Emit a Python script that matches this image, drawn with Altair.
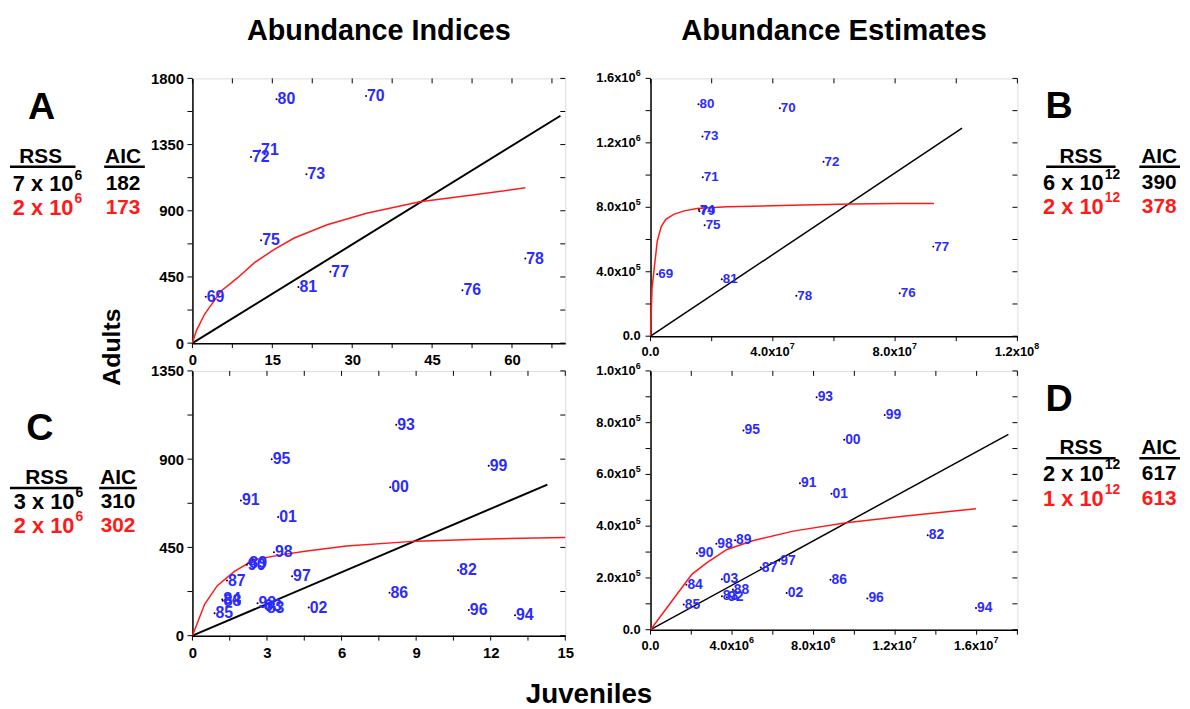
import altair as alt
import pandas as pd

FONT = "Liberation Sans"
BLUE = "#2b2bff"
RED = "#ff1a1a"

# ---------------- Panel A (Abundance indices, 1969-1981) ----------------
A_year = ["69", "70", "71", "72", "73", "75", "76", "77", "78", "80", "81"]
A_juv = [2.5, 32.6, 12.7, 11.0, 21.4, 12.9, 50.7, 25.9, 62.5, 15.8, 19.9]
A_adu = [315, 1681, 1310, 1265, 1148, 699, 360, 485, 575, 1658, 382]
A_black_x = [0, 69.1]
A_black_y = [0, 1546]
A_red_x = [0, 0.75, 2.3, 5.4, 8.5, 11.6, 15.3, 19.1, 25.3, 32.7, 42.7, 52.6, 62.5]
A_red_y = [0, 85, 198, 355, 445, 546, 636, 715, 805, 883, 962, 1007, 1056]
A_xmaj = [0, 15, 30, 45, 60]
A_xall = [0, 7.5, 15, 22.5, 30, 37.5, 45, 52.5, 60, 67.5]
A_ymaj = [0, 450, 900, 1350, 1800]
A_yall = [0, 225, 450, 675, 900, 1125, 1350, 1575, 1800]

# ---------------- Panel B (Abundance estimates, 1969-1981) ----------------
B_year = ["69", "70", "71", "72", "73", "74", "75", "76", "77", "78", "79", "80", "81"]
B_juv = [0.22e7, 4.23e7, 1.71e7, 5.66e7, 1.70e7, 1.58e7, 1.77e7, 8.15e7, 9.25e7, 4.77e7, 1.60e7, 1.57e7, 2.33e7]
B_adu = [0.385e6, 1.415e6, 0.986e6, 1.083e6, 1.24e6, 0.785e6, 0.688e6, 0.266e6, 0.556e6, 0.251e6, 0.775e6, 1.44e6, 0.354e6]
B_black_x = [0, 10.19e7]
B_black_y = [0, 1.291e6]
B_red_x = [0, 0.05e7, 0.22e7, 0.35e7, 0.5e7, 0.76e7, 1.1e7, 1.52e7, 2.5e7, 3.36e7, 5.0e7, 6.6e7, 8.0e7, 9.27e7]
B_red_y = [0, 0.30e6, 0.59e6, 0.68e6, 0.725e6, 0.756e6, 0.778e6, 0.793e6, 0.803e6, 0.807e6, 0.815e6, 0.820e6, 0.823e6, 0.824e6]
B_xmaj = [4e7, 8e7, 1.2e8]
B_xbase = ["4.0x10", "8.0x10", "1.2x10"]
B_xsup = ["7", "7", "8"]
B_xall = [0, 2e7, 4e7, 6e7, 8e7, 1e8, 1.2e8]
B_ymaj = [4e5, 8e5, 1.2e6, 1.6e6]
B_ybase = ["4.0x10", "8.0x10", "1.2x10", "1.6x10"]
B_ysup = ["5", "5", "6", "6"]
B_yall = [0, 2e5, 4e5, 6e5, 8e5, 1e6, 1.2e6, 1.4e6, 1.6e6]

# ---------------- Panel C (Abundance indices, 1982-2003) ----------------
C_year = ["82", "83", "84", "85", "86", "87", "88", "89", "90", "91", "92",
          "93", "94", "95", "96", "97", "98", "99", "00", "01", "02", "03"]
C_juv = [10.69, 2.95, 1.20, 0.89, 7.93, 1.39, 1.22, 2.25, 2.19, 1.95, 2.62,
         8.20, 12.98, 3.19, 11.12, 4.01, 3.28, 11.92, 7.96, 3.45, 4.68, 2.85]
C_adu = [333, 140, 185, 114, 219, 281, 178, 370, 362, 689, 165,
         1076, 104, 899, 131, 303, 425, 866, 757, 605, 143, 150]
C_black_x = [0, 14.28]
C_black_y = [0, 770]
C_red_x = [0, 0.49, 1.0, 1.69, 2.48, 3.55, 4.61, 6.2, 9.0, 11.9, 15.0]
C_red_y = [0, 160, 255, 328, 387, 412, 432, 457, 482, 493, 501]
C_xmaj = [0, 3, 6, 9, 12, 15]
C_xall = [0, 1.5, 3, 4.5, 6, 7.5, 9, 10.5, 12, 13.5, 15]
C_ymaj = [0, 450, 900, 1350]
C_yall = [0, 225, 450, 675, 900, 1125, 1350]

# ---------------- Panel D (Abundance estimates, 1982-2003) ----------------
D_year = C_year
D_juv = [13.6e6, 3.50e6, 1.76e6, 1.63e6, 8.83e6, 5.41e6, 4.04e6, 4.15e6, 2.28e6, 7.33e6, 3.75e6,
         8.15e6, 15.97e6, 4.56e6, 10.64e6, 6.32e6, 3.23e6, 11.49e6, 9.50e6, 8.88e6, 6.68e6, 3.50e6]
D_adu = [0.365e6, 0.129e6, 0.174e6, 0.097e6, 0.193e6, 0.240e6, 0.155e6, 0.346e6, 0.295e6, 0.566e6, 0.125e6,
         0.898e6, 0.084e6, 0.770e6, 0.121e6, 0.266e6, 0.332e6, 0.830e6, 0.734e6, 0.525e6, 0.142e6, 0.195e6]
D_black_x = [0, 17.56e6]
D_black_y = [0, 0.755e6]
D_red_x = [0, 1.79e6, 2.04e6, 2.77e6, 3.75e6, 5.05e6, 7.0e6, 9.6e6, 12.4e6, 15.97e6]
D_red_y = [0, 0.189e6, 0.215e6, 0.259e6, 0.310e6, 0.345e6, 0.381e6, 0.413e6, 0.438e6, 0.467e6]
D_xmaj = [4e6, 8e6, 1.2e7, 1.6e7]
D_xbase = ["4.0x10", "8.0x10", "1.2x10", "1.6x10"]
D_xsup = ["6", "6", "7", "7"]
D_xall = [0, 2e6, 4e6, 6e6, 8e6, 1e7, 1.2e7, 1.4e7, 1.6e7, 1.8e7]
D_ymaj = [2e5, 4e5, 6e5, 8e5, 1e6]
D_ybase = ["2.0x10", "4.0x10", "6.0x10", "8.0x10", "1.0x10"]
D_ysup = ["5", "5", "5", "5", "6"]
D_yall = [0, 1e5, 2e5, 3e5, 4e5, 5e5, 6e5, 7e5, 8e5, 9e5, 1e6]

ZERO_LABEL = ["0.0"]

ONE = alt.Data(values=[{}])


def make_axis(values, size, pad, show_labels=True):
    kw = dict(title=None, ticks=False, grid=False, domain=True,
              domainColor="black", domainWidth=1.5)
    if show_labels:
        kw.update(values=values, labelFont=FONT, labelFontSize=size, format="d",
                  labelFontWeight="bold", labelColor="black", labelPadding=pad,
                  labelOverlap=False, labelFlush=False)
    else:
        kw.update(labels=False, values=[])
    return alt.Axis(**kw)


def txt(s, x, y, size, color="black", weight="bold", align="center", angle=0):
    kw = dict(text=s, font=FONT, fontSize=size, fontWeight=weight, color=color,
              align=align, baseline="middle")
    if angle:
        kw["angle"] = angle
    return alt.Chart(ONE).mark_text(**kw).encode(x=alt.value(x), y=alt.value(y))


def uline(x1, x2, y):
    return alt.Chart(ONE).mark_rule(color="black", strokeWidth=2.5).encode(
        x=alt.value(x1), x2=alt.value(x2), y=alt.value(y))


def stats_block(letter, lx, ly, rss_x, aic_x, hy, ul_rss, ul_aic, rows, sup_dx=1):
    layers = [txt(letter, lx, ly, 38),
              txt("RSS", rss_x, hy, 21), txt("AIC", aic_x, hy, 21),
              uline(ul_rss[0], ul_rss[1], hy + 10), uline(ul_aic[0], ul_aic[1], hy + 10)]
    for base, sup, aic, col, y, right in rows:
        layers.append(txt(base, right, y, 22, color=col, align="right"))
        layers.append(txt(sup, right + sup_dx, y - 9, 14, color=col, align="left"))
        layers.append(txt(aic, aic_x, y, 21, color=col))
    return layers


def panel(year, xs, ys, bx, by, rx, ry, xdom, ydom, xmaj, xall, ymaj, yall,
          w, h, lsize, axsize, blackw, extras, sci=None):
    plain = sci is None
    xaxis = make_axis(xmaj, axsize, 10, plain)
    yaxis = make_axis(ymaj, axsize, 9, plain)
    xs_ = alt.Scale(domain=xdom, nice=False, zero=False)
    ys_ = alt.Scale(domain=ydom, nice=False, zero=False)

    def X(f):
        return alt.X(f, type="quantitative", scale=xs_, axis=xaxis)

    def Y(f):
        return alt.Y(f, type="quantitative", scale=ys_, axis=yaxis)

    pts = pd.DataFrame({"x": xs, "y": ys, "yr": year})
    black = pd.DataFrame({"x": bx, "y": by})
    red = pd.DataFrame({"x": rx, "y": ry})
    xt = pd.DataFrame({"v": xall})
    yt = pd.DataFrame({"v": yall})

    layers = [
        alt.Chart(black).mark_line(color="black", strokeWidth=blackw).encode(x=X("x"), y=Y("y")),
        alt.Chart(red).mark_line(color=RED, strokeWidth=1.5).encode(x=X("x"), y=Y("y")),
        alt.Chart(pts).mark_circle(size=4, color="black", opacity=1).encode(x=X("x"), y=Y("y")),
        alt.Chart(pts).mark_text(align="left", baseline="middle", dx=1, font=FONT,
                                 fontSize=lsize, fontWeight="bold", color=BLUE).encode(
            x=X("x"), y=Y("y"), text="yr:N"),
        alt.Chart(xt).mark_rule(color="black", strokeWidth=1).encode(
            x=X("v"), y=alt.value(h), y2=alt.value(h + 5)),
        alt.Chart(xt).mark_rule(color="black", strokeWidth=1).encode(
            x=X("v"), y=alt.value(0), y2=alt.value(5)),
        alt.Chart(yt).mark_rule(color="black", strokeWidth=1).encode(
            y=Y("v"), x=alt.value(-5), x2=alt.value(0)),
        alt.Chart(yt).mark_rule(color="black", strokeWidth=1).encode(
            y=Y("v"), x=alt.value(w - 5), x2=alt.value(w)),
    ]
    if not plain:
        xbase, xsup, ybase, ysup = sci
        fs, ss = 13, 9
        xl = pd.DataFrame({"v": xmaj, "b": xbase, "s": xsup})
        yl = pd.DataFrame({"v": ymaj, "b": ybase, "s": ysup})
        z = pd.DataFrame({"v": [0], "b": ZERO_LABEL})
        base_kw = dict(font=FONT, fontSize=fs, fontWeight="bold", color="black")
        sup_kw = dict(font=FONT, fontSize=ss, fontWeight="bold", color="black")
        layers += [
            alt.Chart(xl).mark_text(align="right", baseline="top", dx=17, **base_kw).encode(
                x=X("v"), y=alt.value(h + 10), text="b:N"),
            alt.Chart(xl).mark_text(align="left", baseline="top", dx=17, **sup_kw).encode(
                x=X("v"), y=alt.value(h + 6), text="s:N"),
            alt.Chart(z).mark_text(align="center", baseline="top", **base_kw).encode(
                x=X("v"), y=alt.value(h + 10), text="b:N"),
            alt.Chart(yl).mark_text(align="right", baseline="middle", **base_kw).encode(
                y=Y("v"), x=alt.value(-15), text="b:N"),
            alt.Chart(yl).mark_text(align="left", baseline="middle", dy=-5, **sup_kw).encode(
                y=Y("v"), x=alt.value(-15), text="s:N"),
            alt.Chart(z).mark_text(align="right", baseline="middle", **base_kw).encode(
                y=Y("v"), x=alt.value(-10), text="b:N"),
        ]
    layers += extras
    return alt.layer(*layers).properties(width=w, height=h)


extras_A = [txt("Abundance Indices", 188, -48, 29), txt("Adults", -81, 271, 25, angle=270)]
extras_A += stats_block("A", -152, 30, -153, -70, 79, (-184, -118), (-89, -48),
                        [("7 x 10", "6", "182", "black", 107, -120),
                         ("2 x 10", "6", "173", RED, 131, -120)])
extras_B = [txt("Abundance Estimates", 185, -48, 29.5)]
extras_B += stats_block("B", 412, 29, 434, 513, 79, (399, 469), (493, 534),
                        [("6 x 10", "12", "390", "black", 106, 457),
                         ("2 x 10", "12", "378", RED, 130, 457)])
extras_C = [txt("Juveniles", 400, 327, 28)]
extras_C += stats_block("C", -154, 59, -147, -75, 108, (-184, -112), (-94, -56),
                        [("3 x 10", "6", "310", "black", 132, -119),
                         ("2 x 10", "6", "302", RED, 156, -119)])
extras_D = stats_block("D", 412, 29, 434, 513, 78, (399, 469), (493, 534),
                       [("2 x 10", "12", "617", "black", 104, 457),
                        ("1 x 10", "12", "613", RED, 129, 457)])

pA = panel(A_year, A_juv, A_adu, A_black_x, A_black_y, A_red_x, A_red_y, [0, 70], [0, 1800],
           A_xmaj, A_xall, A_ymaj, A_yall, 376, 267, 16, 15, 2, extras_A)
pB = panel(B_year, B_juv, B_adu, B_black_x, B_black_y, B_red_x, B_red_y, [0, 1.2e8], [0, 1.6e6],
           B_xmaj, B_xall, B_ymaj, B_yall, 370, 260, 13.5, 13, 1.5, extras_B,
           sci=(B_xbase, B_xsup, B_ybase, B_ysup))
pC = panel(C_year, C_juv, C_adu, C_black_x, C_black_y, C_red_x, C_red_y, [0, 15], [0, 1350],
           C_xmaj, C_xall, C_ymaj, C_yall, 376, 267, 16, 15, 2, extras_C)
pD = panel(D_year, D_juv, D_adu, D_black_x, D_black_y, D_red_x, D_red_y, [0, 1.8e7], [0, 1.0e6],
           D_xmaj, D_xall, D_ymaj, D_yall, 370, 261, 14, 13, 1.5, extras_D,
           sci=(D_xbase, D_xsup, D_ybase, D_ysup))

chart = alt.concat(pA, pB, pC, pD, columns=2, spacing={"row": 28, "column": 86},
                   bounds="flush").properties(
    padding={"left": 0, "top": 4, "right": 0, "bottom": 0}
).configure_view(stroke="black", strokeWidth=1.5).configure(background="white")

chart.save("out.html", embed_options={"renderer": "svg", "actions": False})
